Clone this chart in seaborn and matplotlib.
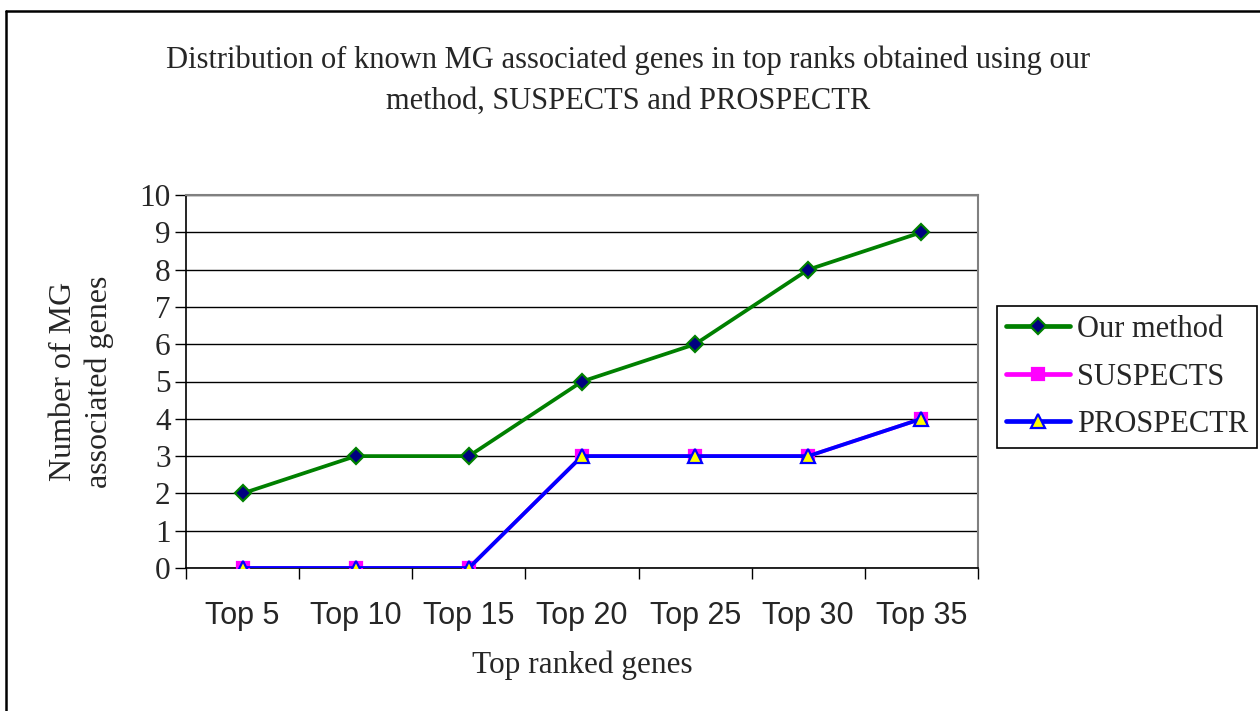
import matplotlib
matplotlib.use("Agg")
import matplotlib.pyplot as plt
import matplotlib.lines as mlines
import seaborn as sns
import pandas as pd

# ── Data ──────────────────────────────────────────────────────────────────────
categories = ["Top 5", "Top 10", "Top 15", "Top 20", "Top 25", "Top 30", "Top 35"]
our_method = [2, 3, 3, 5, 6, 8, 9]
suspects   = [0, 0, 0, 3, 3, 3, 4]
prospectr  = [0, 0, 0, 3, 3, 3, 4]

sns.set_theme(style="white")
plt.rcParams["font.family"] = ["Liberation Serif", "DejaVu Serif"]

fig = plt.figure(figsize=(12.6, 7.11), dpi=100)
ax = fig.add_axes([186 / 1260, 1 - 568 / 711, 792 / 1260, 373 / 711])

x = list(range(len(categories)))
series = [
    ("Our method", our_method, "#008000", "D", "#000080", "#008000", 8.5),
    ("SUSPECTS",   suspects,   "#FF00FF", "s", "#FF00FF", "#FF00FF", 8.5),
    ("PROSPECTR",  prospectr,  "#0000FF", "^", "#FFFF00", "#0000FF", 10),
]
handles = []
for name, vals, col, mk, mfc, mec, ms in series:
    df = pd.DataFrame({"x": x, "y": vals})
    sns.lineplot(data=df, x="x", y="y", ax=ax, color=col, linewidth=2.7,
                 marker=mk, markersize=ms, markerfacecolor=mfc,
                 markeredgecolor=mec, markeredgewidth=1.6, zorder=3)
    handles.append(mlines.Line2D([], [], color=col, linewidth=3.4, marker=mk,
                                 markersize=ms, markerfacecolor=mfc,
                                 markeredgecolor=mec, markeredgewidth=1.6,
                                 label=name))

ax.set_xlim(-0.5, len(categories) - 0.5)
ax.set_ylim(0, 10)
ax.set_yticks(range(0, 11))
ax.yaxis.grid(True, color="black", linewidth=1.0)
ax.xaxis.grid(False)

ax.set_xticks(x)
ax.set_xticklabels(categories, family=["Liberation Sans", "DejaVu Sans"], fontsize=22)
ax.set_xticks([i - 0.5 for i in range(len(categories) + 1)], minor=True)
ax.tick_params(axis="x", which="major", length=0, pad=24)
ax.tick_params(axis="x", which="minor", length=8, width=1, color="black",
               direction="out", bottom=True)
ax.tick_params(axis="y", length=8, width=1, color="black", direction="out",
               left=True, labelsize=22.5, pad=3)

for side in ["left", "bottom"]:
    ax.spines[side].set_color("black")
    ax.spines[side].set_linewidth(1.2)
for side in ["top", "right"]:
    ax.spines[side].set_color("#808080")
    ax.spines[side].set_linewidth(1.5)

ax.set_xlabel("Top ranked genes", fontsize=22.5, labelpad=14)
ax.set_ylabel("Number of MG\nassociated genes", fontsize=23, labelpad=18,
              linespacing=1.3)

fig.text(628 / 1260, 1 - 81 / 711,
         "Distribution of known MG associated genes in top ranks obtained using our\n"
         "method, SUSPECTS and PROSPECTR",
         ha="center", va="center", fontsize=22, linespacing=1.55)

leg = fig.legend(handles=handles, loc="upper left",
                 bbox_to_anchor=(997 / 1260, 1 - 306 / 711),
                 fontsize=22, handlelength=2.1, handletextpad=0.22,
                 borderpad=0.3, labelspacing=0.6, fancybox=False,
                 framealpha=1, edgecolor="black", borderaxespad=0)
leg.get_frame().set_linewidth(1.2)

# outer chart frame (left and top edges visible)
fig.add_artist(mlines.Line2D([6 / 1260, 6 / 1260], [0, 1 - 11 / 711],
                             color="black", linewidth=1.8, transform=fig.transFigure))
fig.add_artist(mlines.Line2D([6 / 1260, 1], [1 - 11 / 711, 1 - 11 / 711],
                             color="black", linewidth=1.8, transform=fig.transFigure))

fig.savefig("out.png", dpi=100)
